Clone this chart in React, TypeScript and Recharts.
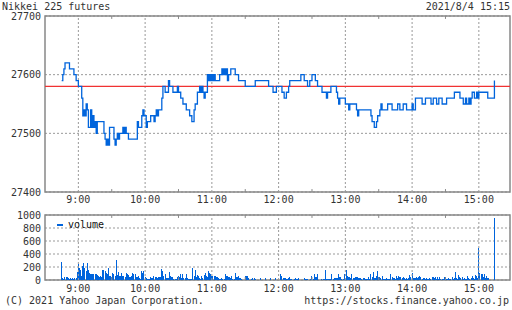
import React from "react";
import {
  LineChart,
  Line,
  BarChart,
  Bar,
  XAxis,
  YAxis,
  CartesianGrid,
  ReferenceLine,
  ReferenceArea,
  Legend,
} from "recharts";

const FONT = '"DejaVu Sans Mono", monospace';
const TEXT = "#333";
const BLUE = "#0064dc";
const RED = "#f03232";
const GRID = "#999";
const FRAME = "#888";

const title = "Nikkei 225 futures";
const stamp = "2021/8/4 15:15";
const copyright = "(C) 2021 Yahoo Japan Corporation.";
const source = "https://stocks.finance.yahoo.co.jp";

const axisStart = "8:30";
const axisEnd = "15:28";
const hourTicks = ["9:00", "10:00", "11:00", "12:00", "13:00", "14:00", "15:00"];
const halfHourMarks = ["9:30", "10:30", "11:30", "12:30", "13:30", "14:30"];
const priceTicks = [27400, 27500, 27600, 27700];
const volumeTicks = [0, 200, 400, 600, 800, 1000];
const prevClose = 27580;

// price changes (time, price) — drawn as a step line
const priceSteps: [string, number][] = [
  ["8:45", 27590], ["8:46", 27600], ["8:47", 27610], ["8:48", 27620], ["8:52", 27610],
  ["8:56", 27600], ["8:58", 27590], ["9:00", 27580], ["9:03", 27560], ["9:04", 27530],
  ["9:05", 27540], ["9:06", 27530], ["9:07", 27550], ["9:08", 27540], ["9:09", 27510],
  ["9:11", 27540], ["9:12", 27510], ["9:13", 27530], ["9:14", 27510], ["9:15", 27520],
  ["9:16", 27500], ["9:17", 27520], ["9:23", 27500], ["9:24", 27490], ["9:25", 27480],
  ["9:26", 27490], ["9:27", 27480], ["9:28", 27510], ["9:32", 27490], ["9:33", 27480],
  ["9:34", 27490], ["9:35", 27500], ["9:36", 27490], ["9:37", 27500], ["9:40", 27510],
  ["9:41", 27500], ["9:42", 27510], ["9:43", 27500], ["9:45", 27490], ["9:53", 27520],
  ["9:54", 27510], ["9:57", 27530], ["9:58", 27540], ["9:59", 27530], ["10:01", 27510],
  ["10:02", 27520], ["10:05", 27530], ["10:08", 27520], ["10:09", 27530], ["10:10", 27540],
  ["10:11", 27530], ["10:12", 27540], ["10:15", 27560], ["10:16", 27580], ["10:18", 27570],
  ["10:21", 27590], ["10:22", 27580], ["10:25", 27570], ["10:29", 27580], ["10:30", 27570],
  ["10:32", 27560], ["10:34", 27550], ["10:37", 27540], ["10:40", 27530], ["10:42", 27520],
  ["10:44", 27540], ["10:45", 27550], ["10:47", 27570], ["10:49", 27580], ["10:50", 27570],
  ["10:51", 27580], ["10:52", 27570], ["10:53", 27560], ["10:54", 27570], ["10:56", 27600],
  ["10:57", 27590], ["10:58", 27600], ["10:59", 27590], ["11:00", 27600], ["11:01", 27590],
  ["11:02", 27600], ["11:03", 27590], ["11:07", 27600], ["11:09", 27610], ["11:10", 27600],
  ["11:11", 27610], ["11:12", 27600], ["11:13", 27610], ["11:14", 27590], ["11:15", 27600],
  ["11:17", 27610], ["11:21", 27600], ["11:24", 27590], ["11:30", 27580], ["11:39", 27590],
  ["11:51", 27580], ["11:55", 27570], ["11:58", 27580], ["12:03", 27570], ["12:05", 27560],
  ["12:07", 27570], ["12:09", 27580], ["12:10", 27590], ["12:20", 27600], ["12:23", 27590],
  ["12:26", 27580], ["12:28", 27590], ["12:30", 27600], ["12:33", 27590], ["12:35", 27580],
  ["12:39", 27570], ["12:43", 27560], ["12:44", 27570], ["12:47", 27580], ["12:52", 27570],
  ["12:53", 27560], ["12:54", 27550], ["12:55", 27560], ["13:00", 27550], ["13:03", 27540],
  ["13:04", 27550], ["13:10", 27540], ["13:11", 27530], ["13:12", 27540], ["13:23", 27530],
  ["13:24", 27520], ["13:26", 27510], ["13:28", 27520], ["13:29", 27530], ["13:31", 27540],
  ["13:32", 27550], ["13:33", 27540], ["13:38", 27550], ["13:42", 27540], ["13:47", 27550],
  ["13:49", 27540], ["13:52", 27550], ["13:55", 27540], ["14:00", 27550], ["14:01", 27540],
  ["14:03", 27560], ["14:09", 27550], ["14:12", 27560], ["14:17", 27550], ["14:19", 27560],
  ["14:22", 27550], ["14:24", 27560], ["14:27", 27550], ["14:31", 27560], ["14:38", 27570],
  ["14:43", 27560], ["14:46", 27550], ["14:48", 27560], ["14:49", 27550], ["14:51", 27560],
  ["14:52", 27550], ["14:53", 27560], ["14:54", 27570], ["14:56", 27560], ["14:58", 27570],
  ["14:59", 27560], ["15:00", 27570], ["15:08", 27560], ["15:14", 27590],
];

// one-minute volume from 8:45
const volumeStart = "8:45";
const volumes = [
  280, 30, 20, 40, 45, 40, 30, 20, 30, 20, 35, 20, 30, 25, 120,
  250, 185, 150, 60, 210, 260, 185, 133, 260, 150, 108, 100, 100, 95, 100,
  100, 90, 80, 55, 50, 55, 40, 160, 150, 133, 108, 100, 185, 65, 60,
  45, 108, 100, 55, 313, 80, 120, 55, 55, 108, 65, 60, 45, 108, 100,
  80, 45, 40, 55, 108, 100, 95, 45, 40, 65, 25, 20, 143, 108, 133,
  45, 25, 20, 15, 10, 45, 30, 25, 55, 45, 40, 30, 45, 40, 45,
  170, 133, 60, 97, 30, 25, 30, 123, 67, 46, 40, 15, 10, 15, 46,
  67, 46, 87, 30, 97, 25, 30, 97, 25, 20, 15, 10, 15, 190, 67,
  160, 40, 80, 55, 30, 15, 67, 30, 80, 108, 60, 40, 138, 108, 87,
  56, 67, 67, 56, 46, 46, 30, 10, 10, 30, 15, 10, 97, 56, 56,
  46, 46, 30, 56, 15, 15, 108, 46, 46, 67, 30, 30, 15, 5, 5,
  67, 56, 56, 30, 0, 0, 15, 30, 30, 15, 5, 5, 0, 5, 30,
  5, 0, 5, 35, 5, 0, 5, 0, 30, 5, 5, 0, 35, 5, 0,
  5, 5, 97, 56, 30, 30, 25, 15, 10, 25, 46, 20, 15, 5, 10,
  25, 20, 20, 25, 5, 0, 5, 5, 25, 20, 20, 20, 5, 0, 10,
  56, 15, 87, 40, 40, 87, 5, 5, 0, 10, 10, 10, 150, 20, 20,
  10, 10, 15, 87, 20, 25, 35, 30, 25, 97, 46, 46, 10, 10, 97,
  20, 150, 67, 46, 46, 25, 97, 30, 30, 46, 46, 46, 25, 35, 35,
  15, 30, 30, 20, 15, 20, 46, 20, 97, 46, 128, 35, 35, 67, 143,
  46, 46, 25, 56, 20, 20, 15, 25, 20, 15, 20, 87, 46, 25, 25,
  15, 56, 30, 67, 46, 46, 25, 46, 30, 20, 36, 20, 25, 77, 40,
  113, 36, 25, 25, 40, 25, 46, 67, 40, 20, 25, 36, 10, 36, 15,
  20, 25, 10, 46, 51, 25, 46, 20, 51, 15, 46, 10, 10, 20, 46,
  51, 20, 10, 25, 20, 15, 46, 20, 36, 128, 36, 20, 77, 51, 36,
  46, 20, 25, 15, 20, 62, 36, 20, 25, 67, 25, 20, 77, 67, 36,
  497, 113, 97, 87, 46, 97, 25, 56, 36, 25, 0, 0, 0, 0, 950,
];

const toMin = (s: string) => {
  const [h, m] = s.split(":").map(Number);
  return h * 60 + m;
};
const fmt = (v: number) => `${Math.floor(v / 60)}:${String(v % 60).padStart(2, "0")}`;

const X0 = toMin(axisStart);
const X1 = toMin(axisEnd);
const hours = hourTicks.map(toMin);
const halves = halfHourMarks.map(toMin);

const priceData = priceSteps.map(([t, price]) => ({ t: toMin(t), price }));
const volumeData = volumes.map((v, i) => ({ t: toMin(volumeStart) + i, volume: v }));

const tickStyle = { fontSize: 10, fill: TEXT, fontFamily: FONT };

function VolumeLegend() {
  return (
    <div style={{ display: "flex", alignItems: "center", fontFamily: FONT, fontSize: 10, lineHeight: "12px", color: "#111" }}>
      <span style={{ display: "inline-block", width: 6, height: 2, background: BLUE, marginRight: 5 }} />
      volume
    </div>
  );
}

export default function App() {
  return (
    <div style={{ position: "absolute", left: 0, top: 0, width: 512, height: 310, background: "#fff", fontFamily: FONT }}>
      <div style={{ position: "absolute", left: 2, top: 1, fontSize: 10, lineHeight: "12px", color: TEXT }}>{title}</div>
      <div style={{ position: "absolute", right: 2, top: 1, fontSize: 10, lineHeight: "12px", color: TEXT }}>{stamp}</div>

      <div style={{ position: "absolute", left: 0, top: 0 }}>
        <LineChart width={512} height={210} data={priceData} margin={{ top: 16, right: 2, bottom: 0, left: 0 }}>
          <CartesianGrid vertical={false} stroke={GRID} strokeDasharray="2 2" />
          {hours.map((h) => (
            <ReferenceLine key={h} x={h} stroke={GRID} strokeDasharray="2 2" />
          ))}
          {halves.map((h) => (
            <ReferenceLine key={`t${h}`} segment={[{ x: h, y: 27700 }, { x: h, y: 27695 }]} stroke={FRAME} />
          ))}
          {halves.map((h) => (
            <ReferenceLine key={`b${h}`} segment={[{ x: h, y: 27400 }, { x: h, y: 27405 }]} stroke={FRAME} />
          ))}
          <ReferenceArea x1={X0} x2={X1} y1={27400} y2={27700} fill="none" stroke={FRAME} strokeWidth={1.5} />
          <XAxis
            type="number"
            dataKey="t"
            domain={[X0, X1]}
            ticks={hours}
            interval={0}
            tickFormatter={fmt}
            axisLine={false}
            tickLine={false}
            tickSize={0}
            tickMargin={4}
            height={18}
            tick={tickStyle}
          />
          <YAxis
            domain={[27400, 27700]}
            ticks={priceTicks}
            interval={0}
            axisLine={false}
            tickLine={false}
            tickSize={0}
            tickMargin={4}
            width={45}
            tick={tickStyle}
          />
          <ReferenceLine y={prevClose} stroke={RED} strokeWidth={1.2} />
          <Line
            type="stepAfter"
            dataKey="price"
            stroke={BLUE}
            strokeWidth={1.3}
            dot={false}
            isAnimationActive={false}
          />
        </LineChart>
      </div>

      <div style={{ position: "absolute", left: 0, top: 200 }}>
        <BarChart width={512} height={96} data={volumeData} margin={{ top: 15, right: 2, bottom: 0, left: 0 }}>
          <CartesianGrid vertical={false} stroke={GRID} strokeDasharray="2 2" />
          {hours.map((h) => (
            <ReferenceLine key={h} x={h} stroke={GRID} strokeDasharray="2 2" />
          ))}
          {halves.map((h) => (
            <ReferenceLine key={`t${h}`} segment={[{ x: h, y: 1000 }, { x: h, y: 955 }]} stroke={FRAME} />
          ))}
          {halves.map((h) => (
            <ReferenceLine key={`b${h}`} segment={[{ x: h, y: 0 }, { x: h, y: 45 }]} stroke={FRAME} />
          ))}
          <ReferenceArea x1={X0} x2={X1} y1={0} y2={1000} fill="none" stroke={FRAME} strokeWidth={1.5} />
          <XAxis
            type="number"
            dataKey="t"
            domain={[X0, X1]}
            ticks={hours}
            interval={0}
            tickFormatter={fmt}
            axisLine={false}
            tickLine={false}
            tickSize={0}
            tickMargin={5}
            height={16}
            tick={tickStyle}
          />
          <YAxis
            domain={[0, 1000]}
            ticks={volumeTicks}
            interval={0}
            axisLine={false}
            tickLine={false}
            tickSize={0}
            tickMargin={4}
            width={45}
            tick={tickStyle}
          />
          <Legend
            layout="horizontal"
            verticalAlign="middle"
            align="center"
            content={() => <VolumeLegend />}
            wrapperStyle={{ left: 57, top: 19, width: "auto", height: 12 }}
          />
          <Bar
            dataKey="volume"
            fill={BLUE}
            barSize={1}
            shapeRendering="crispEdges"
            isAnimationActive={false}
          />
        </BarChart>
      </div>

      <div style={{ position: "absolute", left: 5, top: 295, fontSize: 10, lineHeight: "12px", color: TEXT }}>{copyright}</div>
      <div style={{ position: "absolute", right: 3, top: 295, fontSize: 10, lineHeight: "12px", color: TEXT }}>{source}</div>
    </div>
  );
}
